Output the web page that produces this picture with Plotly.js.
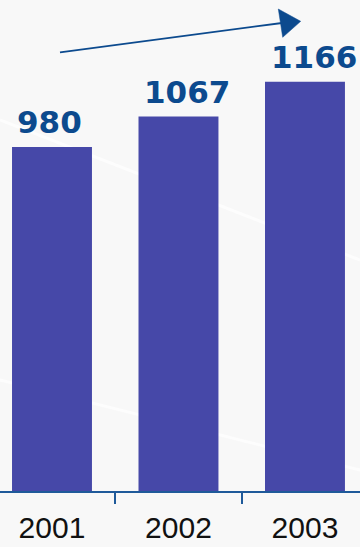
<!DOCTYPE html>
<html>
<head>
<meta charset="utf-8">
<script src="https://cdn.plot.ly/plotly-3.0.1.min.js"></script>
<style>html,body{margin:0;padding:0;background:#f8f8f8;}#chart{width:360px;height:547px;}</style>
</head>
<body>
<div id="chart"></div>
<script>
var years = ['2001', '2002', '2003'];
var values = [980, 1067, 1166];

var barColor = '#4648a8';
var labelColor = '#0c4a8e';

var annotations = years.map(function (y, i) {
  return {
    x: i, y: values[i], xref: 'x', yref: 'y',
    text: '<b>' + values[i] + '</b>', showarrow: false,
    yanchor: 'bottom', xanchor: 'center', yshift: 5, xshift: i === 0 ? -2 : 9,
    font: {family: 'DejaVu Sans', size: 31, color: labelColor}
  };
});

function px(x) { return x / 360; }
function py(y) { return (491 - y) / 491; }

var shapes = [
  {type: 'line', xref: 'paper', yref: 'paper', x0: px(0), y0: py(120), x1: px(360), y1: py(260), line: {color: '#fdfdfd', width: 3}, layer: 'below'},
  {type: 'line', xref: 'paper', yref: 'paper', x0: px(0), y0: py(380), x1: px(360), y1: py(470), line: {color: '#fdfdfd', width: 3}, layer: 'below'},
  {type: 'line', xref: 'paper', yref: 'paper', x0: px(60), y0: py(52.3), x1: px(282), y1: py(23), line: {color: labelColor, width: 1.8}},
  {type: 'path', xref: 'paper', yref: 'paper',
   path: 'M ' + px(278.3) + ' ' + py(9) + ' L ' + px(300.7) + ' ' + py(21.3) + ' L ' + px(282.7) + ' ' + py(37.3) + ' Z',
   fillcolor: labelColor, line: {color: labelColor, width: 0.5}}
];

var trace = {
  type: 'bar', x: years, y: values,
  marker: {color: barColor, line: {width: 0}},
  width: 0.632, hoverinfo: 'skip'
};

var layout = {
  width: 360, height: 547,
  margin: {l: 0, r: 0, t: 0, b: 56},
  paper_bgcolor: '#f8f8f8', plot_bgcolor: 'rgba(0,0,0,0)',
  showlegend: false,
  xaxis: {
    type: 'category', range: [-0.411, 2.435],
    showgrid: false, zeroline: false,
    showline: true, linecolor: '#1f5a9a', linewidth: 2,
    ticks: 'outside', tickson: 'boundaries', ticklen: 11, tickwidth: 2, tickcolor: '#1f5a9a',
    tickfont: {family: 'Liberation Sans, Arial', size: 30, color: '#111111'},
    ticklabelstandoff: 9
  },
  yaxis: {
    range: [0, 1399], visible: false, showgrid: false, zeroline: false
  },
  annotations: annotations,
  shapes: shapes
};

Plotly.newPlot('chart', [trace], layout, {displayModeBar: false, staticPlot: true});
</script>
</body>
</html>
